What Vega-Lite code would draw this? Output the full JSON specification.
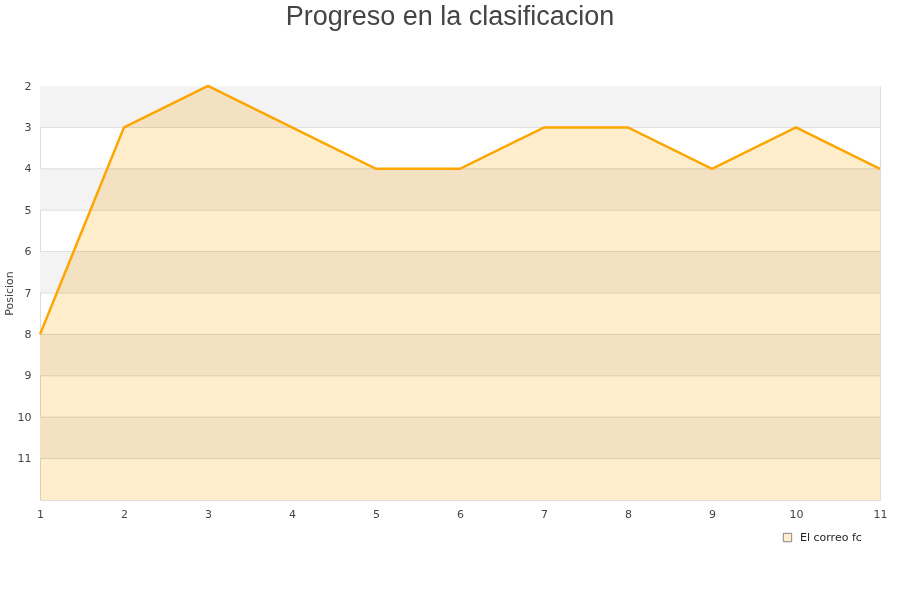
{
  "$schema": "https://vega.github.io/schema/vega-lite/v6.json",
  "width": 840,
  "height": 414,
  "autosize": "none",
  "padding": {"left": 40, "top": 86, "right": 20, "bottom": 100},
  "background": "white",
  "config": {
    "view": {"stroke": "#dddddd", "strokeWidth": 1},
    "font": "DejaVu Sans"
  },
  "title": {
    "text": "Progreso en la clasificacion",
    "font": "Liberation Sans",
    "fontSize": 27,
    "fontWeight": "normal",
    "color": "#444444",
    "anchor": "middle",
    "dx": -10,
    "offset": 49
  },
  "datasets": {
    "series": [
      {"jornada": 1, "posicion": 8, "equipo": "El correo fc"},
      {"jornada": 2, "posicion": 3, "equipo": "El correo fc"},
      {"jornada": 3, "posicion": 2, "equipo": "El correo fc"},
      {"jornada": 4, "posicion": 3, "equipo": "El correo fc"},
      {"jornada": 5, "posicion": 4, "equipo": "El correo fc"},
      {"jornada": 6, "posicion": 4, "equipo": "El correo fc"},
      {"jornada": 7, "posicion": 3, "equipo": "El correo fc"},
      {"jornada": 8, "posicion": 3, "equipo": "El correo fc"},
      {"jornada": 9, "posicion": 4, "equipo": "El correo fc"},
      {"jornada": 10, "posicion": 3, "equipo": "El correo fc"},
      {"jornada": 11, "posicion": 4, "equipo": "El correo fc"}
    ],
    "bands": [
      {"desde": 2, "hasta": 3},
      {"desde": 4, "hasta": 5},
      {"desde": 6, "hasta": 7},
      {"desde": 8, "hasta": 9},
      {"desde": 10, "hasta": 11}
    ],
    "grid": [
      {"nivel": 3}, {"nivel": 4}, {"nivel": 5}, {"nivel": 6}, {"nivel": 7},
      {"nivel": 8}, {"nivel": 9}, {"nivel": 10}, {"nivel": 11}
    ]
  },
  "layer": [
    {
      "data": {"name": "bands"},
      "mark": {"type": "rect", "fill": "#f3f3f3"},
      "encoding": {
        "y": {"field": "desde", "type": "quantitative", "scale": {"domain": [2, 12], "reverse": true, "nice": false, "zero": false}},
        "y2": {"field": "hasta"}
      }
    },
    {
      "data": {"name": "grid"},
      "mark": {"type": "rule", "stroke": "#dddddd", "strokeWidth": 1},
      "encoding": {
        "y": {"field": "nivel", "type": "quantitative"}
      }
    },
    {
      "data": {"name": "series"},
      "mark": {"type": "area", "fillOpacity": 1, "opacity": 1, "blend": "multiply"},
      "encoding": {
        "x": {
          "field": "jornada", "type": "quantitative",
          "scale": {"domain": [1, 11], "nice": false, "zero": false},
          "axis": {
            "title": null, "values": [1,2,3,4,5,6,7,8,9,10,11], "format": "d", "grid": false,
            "domain": false, "ticks": false, "labelPadding": 8, "labelFlush": false,
            "labelFontSize": 11, "labelColor": "#444444", "labelFont": "DejaVu Sans"
          }
        },
        "y": {
          "field": "posicion", "type": "quantitative",
          "axis": {
            "title": "Posicion", "titleFontSize": 11, "titleFontWeight": "normal",
            "titleColor": "#444444", "titleFont": "DejaVu Sans", "titlePadding": 3,
            "values": [2,3,4,5,6,7,8,9,10,11], "format": "d", "grid": false, "domain": false,
            "ticks": false, "labelPadding": 9, "labelFontSize": 11,
            "labelColor": "#444444", "labelFont": "DejaVu Sans"
          }
        },
        "y2": {"datum": 12},
        "fill": {
          "field": "equipo", "type": "nominal",
          "scale": {"range": ["#FFEDCC"]},
          "legend": {
            "title": null, "orient": "none", "legendX": 742, "legendY": 446,
            "symbolType": "square", "symbolSize": 70, "labelFontSize": 11,
            "symbolStrokeColor": "#888888", "symbolStrokeWidth": 1,
            "labelColor": "#222222", "labelFont": "DejaVu Sans", "labelOffset": 7
          }
        }
      }
    },
    {
      "data": {"name": "series"},
      "mark": {"type": "line", "stroke": "#FFA500", "strokeWidth": 2.5},
      "encoding": {
        "x": {"field": "jornada", "type": "quantitative"},
        "y": {"field": "posicion", "type": "quantitative"}
      }
    }
  ]
}
